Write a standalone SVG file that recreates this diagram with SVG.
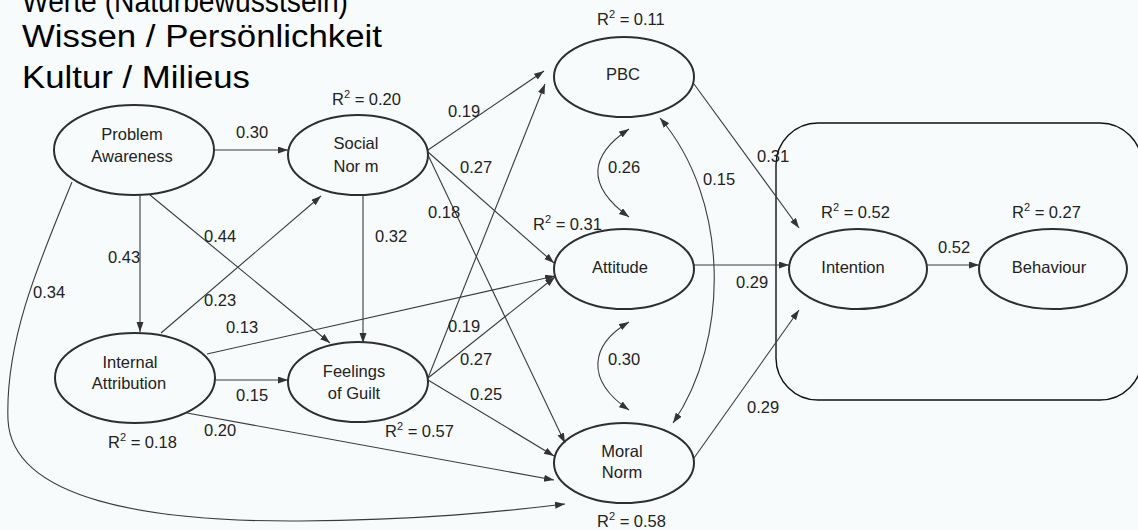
<svg xmlns="http://www.w3.org/2000/svg" width="1138" height="530" viewBox="0 0 1138 530">
<defs>
<marker id="ah" markerWidth="11" markerHeight="8" refX="10" refY="3.5" orient="auto-start-reverse" markerUnits="userSpaceOnUse">
<path d="M0,0 L10,3.5 L0,7 z" fill="#333"/>
</marker>
<style>
.bg{fill:#f7fbfc}
.node ellipse{fill:none;stroke:#2e2e2e;stroke-width:2}
.node text,.lbl text{font-family:"Liberation Sans",Arial,sans-serif;font-size:16.5px;fill:#222}
.node text{text-anchor:middle}
.conn path{fill:none;stroke:#3a3a3a;stroke-width:1.1}
.arr{marker-end:url(#ah)}
.bi{marker-start:url(#ah);marker-end:url(#ah)}
.head{font-family:"Liberation Sans",Arial,sans-serif;font-size:31px;fill:#000}
.sup{font-size:11px}
</style>
</defs>
<rect class="bg" x="0" y="0" width="1138" height="530"/>
<g id="heading">
<text class="head" x="22" y="12" textLength="326" lengthAdjust="spacingAndGlyphs">Werte (Naturbewusstsein)</text>
<text class="head" x="22" y="47" textLength="360" lengthAdjust="spacingAndGlyphs">Wissen / Persönlichkeit</text>
<text class="head" x="22" y="88" textLength="228" lengthAdjust="spacingAndGlyphs">Kultur / Milieus</text>
</g>
<rect id="box" x="776" y="123" width="366" height="277" rx="42" ry="42" fill="none" stroke="#111" stroke-width="1.4"/>
<g id="connectors" class="conn">
<path class="arr" d="M215 150 L288 150"/>
<path class="arr" d="M140 195 L140 332"/>
<path class="arr" d="M150 195 L330 343"/>
<path class="arr" d="M161 333 L321 196"/>
<path class="arr" d="M207 354 L555 276"/>
<path class="arr" d="M215 380 L288 380"/>
<path class="arr" d="M187 413 L554 480"/>
<path class="arr" d="M72 182 C40 260 5 340 8 420 C12 500 150 522 300 521 C420 520 500 512 565 504"/>
<path class="arr" d="M428 150 L544 71"/>
<path class="arr" d="M428 152 L554 263"/>
<path class="arr" d="M428 155 L565 443"/>
<path class="arr" d="M363 195 L363 343"/>
<path class="arr" d="M428 378 L545 84"/>
<path class="arr" d="M428 378 L555 277"/>
<path class="arr" d="M428 380 L554 456"/>
<path class="arr" d="M694 84 L799 228"/>
<path class="arr" d="M694 265 L789 265"/>
<path class="arr" d="M694 458 L799 310"/>
<path class="arr" d="M927 265 L979 265"/>
<path class="bi" d="M629 129 C590 155 585 185 629 217"/>
<path class="bi" d="M629 322 C590 345 585 380 629 410"/>
<path class="bi" d="M660 118 C730 200 730 340 673 423"/>
</g>
<g id="labels" class="lbl">
<text x="236" y="138">0.30</text>
<text x="108" y="263">0.43</text>
<text x="204" y="242">0.44</text>
<text x="204" y="306">0.23</text>
<text x="226" y="333">0.13</text>
<text x="236" y="401">0.15</text>
<text x="204" y="436">0.20</text>
<text x="33" y="298">0.34</text>
<text x="448" y="117">0.19</text>
<text x="460" y="173">0.27</text>
<text x="428" y="218">0.18</text>
<text x="375" y="242">0.32</text>
<text x="448" y="332">0.19</text>
<text x="460" y="365">0.27</text>
<text x="470" y="400">0.25</text>
<text x="757" y="162">0.31</text>
<text x="736" y="288">0.29</text>
<text x="747" y="413">0.29</text>
<text x="938" y="253">0.52</text>
<text x="608" y="173">0.26</text>
<text x="608" y="365">0.30</text>
<text x="703" y="185">0.15</text>
<text x="332" y="105">R<tspan class="sup" dy="-7">2</tspan><tspan dy="7"> = 0.20</tspan></text>
<text x="108" y="448">R<tspan class="sup" dy="-7">2</tspan><tspan dy="7"> = 0.18</tspan></text>
<text x="385" y="437">R<tspan class="sup" dy="-7">2</tspan><tspan dy="7"> = 0.57</tspan></text>
<text x="597" y="25">R<tspan class="sup" dy="-7">2</tspan><tspan dy="7"> = 0.11</tspan></text>
<text x="533" y="230">R<tspan class="sup" dy="-7">2</tspan><tspan dy="7"> = 0.31</tspan></text>
<text x="597" y="527">R<tspan class="sup" dy="-7">2</tspan><tspan dy="7"> = 0.58</tspan></text>
<text x="821" y="218">R<tspan class="sup" dy="-7">2</tspan><tspan dy="7"> = 0.52</tspan></text>
<text x="1012" y="218">R<tspan class="sup" dy="-7">2</tspan><tspan dy="7"> = 0.27</tspan></text>
</g>
<g id="problem-awareness" class="node"><ellipse cx="134" cy="150" rx="80" ry="45"/><text x="132" y="140">Problem</text><text x="132" y="162">Awareness</text></g>
<g id="social-norm" class="node"><ellipse cx="358" cy="155" rx="70" ry="40"/><text x="356" y="149">Social</text><text x="356" y="172">Nor m</text></g>
<g id="internal-attribution" class="node"><ellipse cx="135" cy="378" rx="80" ry="45"/><text x="130" y="368">Internal</text><text x="129" y="389">Attribution</text></g>
<g id="feelings-of-guilt" class="node"><ellipse cx="358" cy="382" rx="70" ry="40"/><text x="354" y="377">Feelings</text><text x="354" y="399">of Guilt</text></g>
<g id="pbc" class="node"><ellipse cx="624" cy="77" rx="70" ry="40"/><text x="623" y="80">PBC</text></g>
<g id="attitude" class="node"><ellipse cx="624" cy="269" rx="70" ry="40"/><text x="620" y="273">Attitude</text></g>
<g id="moral-norm" class="node"><ellipse cx="624" cy="463" rx="70" ry="40"/><text x="622" y="457">Moral</text><text x="622" y="478">Norm</text></g>
<g id="intention" class="node"><ellipse cx="858" cy="269" rx="69" ry="40"/><text x="853" y="273">Intention</text></g>
<g id="behaviour" class="node"><ellipse cx="1053" cy="269" rx="74" ry="40"/><text x="1049" y="273">Behaviour</text></g>
</svg>
